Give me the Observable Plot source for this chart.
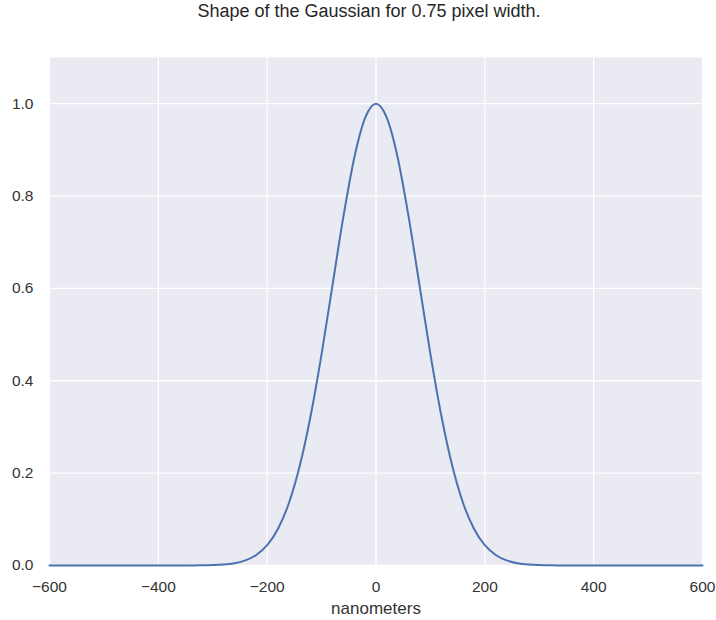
<!DOCTYPE html>
<html>
<head>
<meta charset="utf-8">
<script src="https://cdn.jsdelivr.net/npm/d3@7"></script>
<script src="https://cdn.jsdelivr.net/npm/@observablehq/plot@0.6"></script>
<style>
  html, body { margin: 0; padding: 0; background: #fff; }
  #chart { width: 716px; height: 620px; }
</style>
</head>
<body>
<div id="chart"></div>
<script>
// Gaussian profile sampled along the position axis (nanometers)
const positions = [
  -600, -500, -400, -340, -320, -300, -280, -260, -240, -220, -200, -180, -160, -140, -120, -100,
  -80, -60, -40, -20, 0, 20, 40, 60, 80, 100, 120, 140, 160, 180, 200, 220, 240, 260, 280, 300,
  320, 340, 400, 500, 600
];
const intensity = [
  0, 0, 0, 0.0001, 0.0003, 0.0009, 0.0022, 0.0051, 0.0111, 0.0228, 0.0439, 0.0796, 0.1353, 0.2163, 0.3247, 0.4578,
  0.6065, 0.7548, 0.8825, 0.9692, 1.0, 0.9692, 0.8825, 0.7548, 0.6065, 0.4578, 0.3247, 0.2163, 0.1353, 0.0796, 0.0439,
  0.0228, 0.0111, 0.0051, 0.0022, 0.0009, 0.0003, 0.0001, 0, 0, 0
];
const xTicks = [-600, -400, -200, 0, 200, 400, 600];
const yTicks = [0.0, 0.2, 0.4, 0.6, 0.8, 1.0];
const titleText = "Shape of the Gaussian for 0.75 pixel width.";
const xLabel = "nanometers";

const profile = positions.map((x, i) => ({x, y: intensity[i]}));
const fmtX = d => String(d).replace("-", "\u2212");

const chart = Plot.plot({
  width: 716,
  height: 620,
  marginLeft: 49,
  marginRight: 14,
  marginTop: 57,
  marginBottom: 55,
  style: {fontFamily: "'Liberation Sans', Arial, sans-serif", color: "#333", overflow: "visible"},
  x: {domain: [-600, 600]},
  y: {domain: [0, 1.1]},
  marks: [
    Plot.frame({fill: "#EAEAF2", stroke: null}),
    Plot.gridX(xTicks, {stroke: "#fff", strokeOpacity: 1, strokeWidth: 1.3}),
    Plot.gridY(yTicks, {stroke: "#fff", strokeOpacity: 1, strokeWidth: 1.3}),
    Plot.axisX({ticks: xTicks, tickSize: 0, tickPadding: 15, fontSize: 15.5,
                tickFormat: fmtX, label: null}),
    Plot.axisY({ticks: yTicks, tickSize: 0, tickPadding: 16, fontSize: 15.5,
                tickFormat: d3.format(".1f"), label: null}),
    Plot.line(profile, {x: "x", y: "y", curve: "monotone-x", stroke: "#4C72B0", strokeWidth: 2}),
    Plot.text([xLabel], {frameAnchor: "bottom", lineAnchor: "middle", dy: 42.6, text: d => d,
                         fontSize: 17, fill: "#333"}),
    Plot.text([titleText], {frameAnchor: "top", lineAnchor: "middle", dy: -46, dx: -7, text: d => d,
                            fontSize: 18, fill: "#262626"})
  ]
});

document.getElementById("chart").appendChild(chart);
</script>
</body>
</html>
